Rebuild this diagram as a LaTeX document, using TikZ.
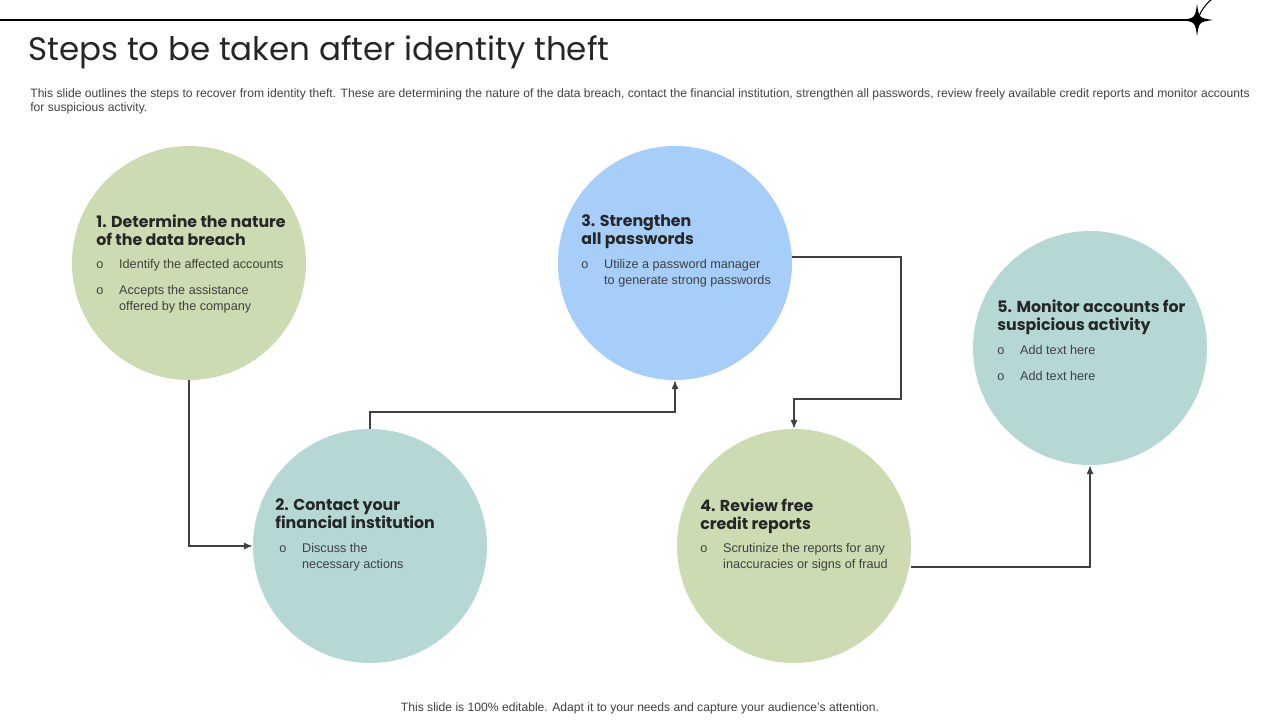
\documentclass[tikz,border=0pt]{standalone}
\usepackage{fontspec}
\setmainfont{Liberation Sans}
\newfontfamily\headfont{Poppins}
\usetikzlibrary{arrows.meta}
\definecolor{sagegreen}{HTML}{CCDBB1}
\definecolor{paleteal}{HTML}{B5D8D5}
\definecolor{skyblue}{HTML}{A6CEF8}
\definecolor{inkgray}{HTML}{404040}
\tikzset{
  stepdisc/.style={circle, minimum size=234\pxu, inner sep=0pt},
  headtxt/.style={anchor=north west, align=left, inner sep=0pt, font=\headfont\fontsize{9}{10.6}\selectfont\bfseries, text=black!85},
  bodytxt/.style={anchor=north west, inner sep=0pt, font=\fontsize{7.2}{9}\selectfont, text=inkgray},
  flow/.style={draw=inkgray, line width=0.6pt, -{Latex[length=5pt,width=4pt]}}
}
\newlength{\pxu}\setlength{\pxu}{0.02cm}
\newcommand{\bullets}[1]{\begin{tabular}{@{}l@{\hspace{9pt}}l@{}}#1\end{tabular}}
\begin{document}
\begin{tikzpicture}[x=0.02cm, y=-0.02cm]
    \useasboundingbox (0,0) rectangle (1280,720);

    % Kopfzeile
    \draw[line width=0.6pt] (0,20) -- (1190,20);
    \draw[line width=0.6pt] (1197,27) arc[start angle=180, end angle=270, x radius=83, y radius=49];
    \fill (1197,4) .. controls (1199,18) .. (1213,20) .. controls (1199,22) .. (1197,36)
          .. controls (1195,22) .. (1181,20) .. controls (1195,18) .. (1197,4) -- cycle;
    \node[anchor=west, inner sep=0pt, font=\headfont\fontsize{18.5}{20}\selectfont, text=black!85] (title) at (28,52) {Steps to be taken after identity theft};
    \node[anchor=north west, align=left, inner sep=0pt, font=\fontsize{6.9}{8}\selectfont, text=inkgray] (intro) at (30,88)
        {This slide outlines the steps to recover from identity theft. These are determining the nature of the data breach, contact the financial institution, strengthen all passwords, review freely available credit reports and monitor accounts\\for suspicious activity.};

    % Kreise
    \node[stepdisc, fill=sagegreen] (c1) at (189,263) {};
    \node[stepdisc, fill=paleteal]  (c2) at (370,546) {};
    \node[stepdisc, fill=skyblue]   (c3) at (675,263) {};
    \node[stepdisc, fill=sagegreen] (c4) at (794,546) {};
    \node[stepdisc, fill=paleteal]  (c5) at (1090,348) {};

    % Texte
    \node[headtxt] (h1) at (96,214) {1. Determine the nature\\of the data breach};
    \node[bodytxt] (b1) at (96,257) {\bullets{o & Identify the affected accounts\\[6pt] o & Accepts the assistance\\ & offered by the company}};
    \node[headtxt] (h2) at (275,498) {2. Contact your\\financial institution};
    \node[bodytxt] (b2) at (279,541) {\bullets{o & Discuss the\\ & necessary actions}};
    \node[headtxt] (h3) at (581,214) {3. Strengthen\\all passwords};
    \node[bodytxt] (b3) at (581,257) {\bullets{o & Utilize a password manager\\ & to generate strong passwords}};
    \node[headtxt] (h4) at (700,498) {4. Review free\\credit reports};
    \node[bodytxt] (b4) at (700,541) {\bullets{o & Scrutinize the reports for any\\ & inaccuracies or signs of fraud}};
    \node[headtxt] (h5) at (997,299) {5. Monitor accounts for\\suspicious activity};
    \node[bodytxt] (b5) at (997,343) {\bullets{o & Add text here\\[6pt] o & Add text here}};

    % Verbindungen
    \draw[flow] (c1.south) |- (c2.west);
    \draw[flow] (c2.north) |- (522,412) -| (c3.south);
    \draw[flow] (792,257) -| (901,399) -| (c4.north);
    \draw[flow] (911,567) -| (c5.south);

    \node[font=\fontsize{6.9}{8}\selectfont, text=inkgray] (foot) at (640,708) {This slide is 100\% editable. Adapt it to your needs and capture your audience's attention.};
\end{tikzpicture}
\end{document}
